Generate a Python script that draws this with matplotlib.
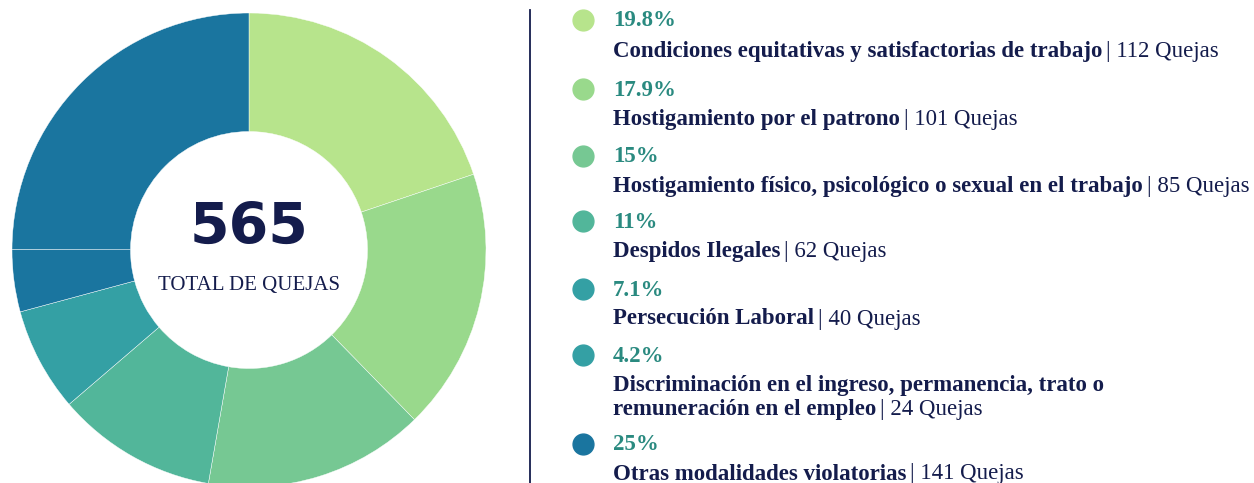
import matplotlib.pyplot as plt

# datos del grafico
categorias = [
    'Condiciones equitativas y satisfactorias de trabajo',
    'Hostigamiento por el patrono',
    'Hostigamiento físico, psicológico o sexual en el trabajo',
    'Despidos Ilegales',
    'Persecución Laboral',
    'Discriminación en el ingreso, permanencia, trato o\nremuneración en el empleo',
    'Otras modalidades violatorias',
]
quejas = [112, 101, 85, 62, 40, 24, 141]
porcentajes = ['19.8%', '17.9%', '15%', '11%', '7.1%', '4.2%', '25%']
total = 565

colores_pie = ['#b7e48c', '#99d98c', '#76c893', '#52b69a', '#34a0a4', '#1a759f', '#1a759f']
colores_leyenda = ['#b7e48c', '#99d98c', '#76c893', '#52b69a', '#34a0a4', '#34a0a4', '#1a759f']

navy = '#141c4c'
teal = '#2a8a80'
serif = 'Liberation Serif'

W, H = 1254, 483
fig = plt.figure(figsize=(W / 100, H / 100), dpi=100)

# dona: centro (249, 250) px, radio 237 px
cx, cy, r = 249, 250, 237
ax = fig.add_axes([(cx - r) / W, (H - cy - r) / H, 2 * r / W, 2 * r / H])
ax.pie(quejas, colors=colores_pie, startangle=90, counterclock=False, radius=1,
       wedgeprops=dict(width=0.5, edgecolor='white', linewidth=0.3))
ax.set_xlim(-1, 1)
ax.set_ylim(-1, 1)
ax.set_aspect('equal')
ax.axis('off')
for p in ax.patches:
    p.set_clip_on(False)

ax.text(0, 0.09, str(total), ha='center', va='center', fontsize=41, fontweight='bold',
        family='DejaVu Sans', color=navy)
ax.text(0, -0.148, 'TOTAL DE QUEJAS', ha='center', va='center', fontsize=15,
        family=serif, color=navy)

# separador vertical
fig.add_artist(plt.Line2D([530 / W, 530 / W], [0, 1 - 10 / H], color=navy, linewidth=1.3))

# leyenda
fs = 16.5
y_pct = [21, 90, 157, 222, 290, 356, 445]
y_lab = [52, 119, 186, 252, 319, 397, 474]
for i in range(len(categorias)):
    yp = 1 - y_pct[i] / H
    yl = 1 - y_lab[i] / H
    fig.add_artist(plt.Line2D([583 / W], [1 - (y_pct[i] - 1) / H], marker='o', markersize=15,
                              color=colores_leyenda[i], linestyle='none'))
    fig.text(613 / W, yp, porcentajes[i], ha='left', va='center', fontsize=fs,
             fontweight='bold', family=serif, color=teal)
    lineas = categorias[i].split('\n')
    if len(lineas) == 2:
        fig.text(613 / W, yl + 12 / H, lineas[0], ha='left', va='center', fontsize=fs,
                 fontweight='bold', family=serif, color=navy)
        base = lineas[1]
        yl = yl - 12 / H
    else:
        base = lineas[0]
    t = fig.text(613 / W, yl, base, ha='left', va='center', fontsize=fs,
                 fontweight='bold', family=serif, color=navy)
    fig.canvas.draw()
    bb = t.get_window_extent()
    fig.text((bb.x1 + 4) / W, yl, '| ' + str(quejas[i]) + ' Quejas', ha='left', va='center',
             fontsize=fs, family=serif, color=navy)

fig.savefig('out.png', dpi=100)
